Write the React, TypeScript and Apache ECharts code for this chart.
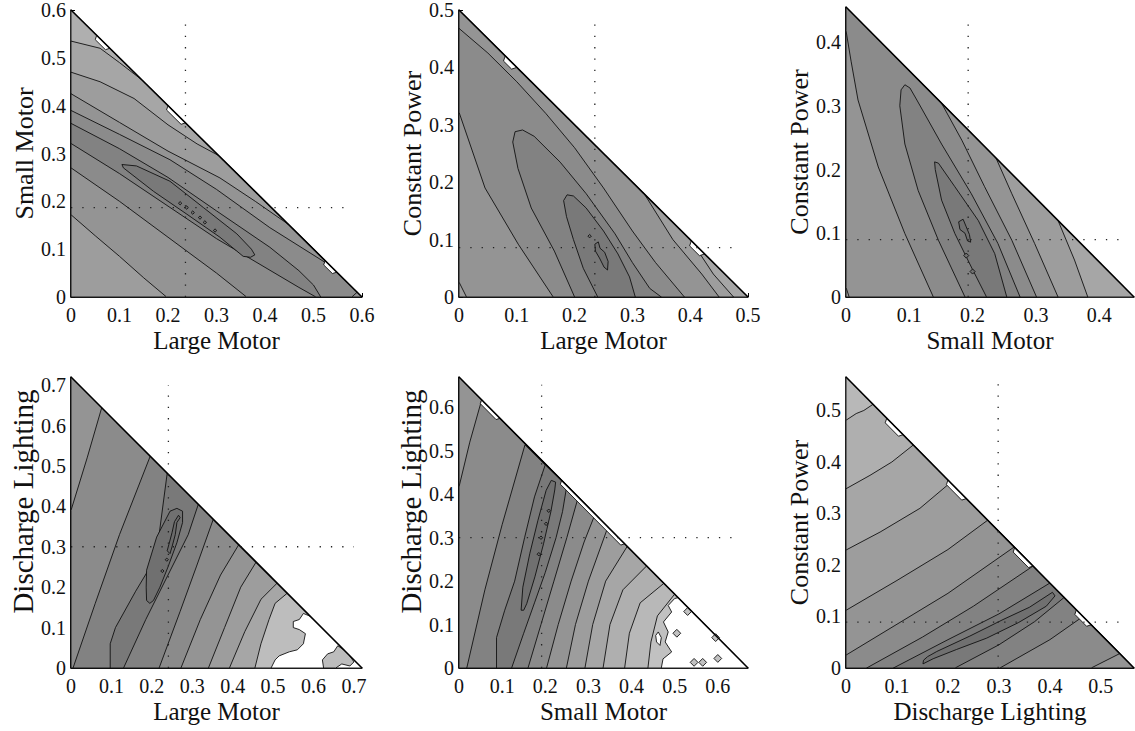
import React, { useEffect, useRef } from "react";
import * as echarts from "echarts";

type Pt = [number, number];
type Region = { pts: Pt[]; lv: number | "white" };

// ---------- panel settings ----------
const PANEL_MAX = [0.6, 0.5, 0.455, 0.72, 0.67, 0.565];
const X_TITLES = ["Large Motor", "Large Motor", "Small Motor", "Large Motor", "Small Motor", "Discharge Lighting"];
const Y_TITLES = ["Small Motor", "Constant Power", "Constant Power", "Discharge Lighting", "Discharge Lighting", "Constant Power"];
const OPT_X = [0.236, 0.235, 0.193, 0.241, 0.1915, 0.2985];
const OPT_Y = [0.187, 0.086, 0.09, 0.3, 0.3, 0.089];
const OPT_REACH = [0.582, 0.488, 0.443, 0.7, 0.652, 0.551];

// ---------- panel 1 : Large Motor vs Small Motor ----------
const P1_C6: Pt[] = [[0, 0.535], [0.06, 0.52], [0.1, 0.49], [0.146, 0.454]];
const P1_C5: Pt[] = [[0, 0.47], [0.06, 0.45], [0.13, 0.415], [0.2, 0.36], [0.26, 0.32], [0.304, 0.296]];
const P1_C4U: Pt[] = [[0, 0.425], [0.1, 0.365], [0.2, 0.305], [0.307, 0.249], [0.38, 0.2], [0.448, 0.152]];
const P1_C4L: Pt[] = [[0, 0.172], [0.05, 0.128], [0.1, 0.085], [0.15, 0.04], [0.197, 0]];
const P1_C3U: Pt[] = [[0, 0.39], [0.1, 0.34], [0.204, 0.287], [0.3, 0.225], [0.41, 0.145], [0.534, 0.066]];
const P1_C3R: Pt[] = [[0.59, 0.01], [0.579, 0]];
const P1_C3L: Pt[] = [[0, 0.27], [0.1, 0.2], [0.2, 0.125], [0.3, 0.05], [0.362, 0]];
const P1_C2: Pt[] = [[0, 0.363], [0.1, 0.31], [0.2, 0.25], [0.3, 0.18], [0.41, 0.104], [0.47, 0.055], [0.5, 0.025], [0.515, 0], [0.505, 0], [0.47, 0.02], [0.4, 0.062], [0.3, 0.122], [0.2, 0.19], [0.1, 0.258], [0, 0.321]];
const P1_C1: Pt[] = [[0.105, 0.277], [0.135, 0.274], [0.204, 0.242], [0.273, 0.187], [0.342, 0.132], [0.372, 0.1], [0.379, 0.088], [0.37, 0.083], [0.355, 0.085], [0.307, 0.125], [0.239, 0.173], [0.17, 0.221], [0.108, 0.27]];
const P1_SPOTS: Pt[] = [[0.225, 0.196], [0.2385, 0.187], [0.251, 0.1765], [0.266, 0.166], [0.276, 0.156], [0.297, 0.139]];
const P1_NOTCH: Pt[] = [[0.053, 0.08], [0.2, 0.236], [0.524, 0.548]];

// ---------- panel 2 : Large Motor vs Constant Power ----------
const P2_C6: Pt[] = [[0.475, 0], [0.44, 0.04], [0.402, 0.098]];
const P2_TINY: Pt[] = [[0, 0.026], [0.013, 0]];
const P2_C5: Pt[] = [[0.45, 0], [0.42, 0.04], [0.37, 0.1], [0.321, 0.179]];
const P2_B: Pt[] = [[0, 0.322], [0.045, 0.19], [0.1025, 0.092], [0.163, 0]];
const P2_C4: Pt[] = [[0, 0.468], [0.05, 0.425], [0.1, 0.375], [0.15, 0.32], [0.2, 0.26], [0.25, 0.19], [0.3, 0.115], [0.34, 0.06], [0.39, 0]];
const P2_C3: Pt[] = [[0.2, 0], [0.165, 0.08], [0.125, 0.155], [0.102, 0.224], [0.093, 0.27], [0.097, 0.288], [0.11, 0.291], [0.13, 0.28], [0.175, 0.235], [0.22, 0.18], [0.27, 0.11], [0.3, 0.06], [0.33, 0.015], [0.35, 0]];
const P2_C2: Pt[] = [[0.24, 0], [0.215, 0.05], [0.198, 0.1], [0.186, 0.14], [0.181, 0.168], [0.187, 0.178], [0.198, 0.176], [0.22, 0.155], [0.25, 0.115], [0.275, 0.075], [0.295, 0.035], [0.305, 0]];
const P2_C1: Pt[] = [[0.235, 0.092], [0.241, 0.096], [0.244, 0.085], [0.252, 0.078], [0.258, 0.062], [0.257, 0.047], [0.251, 0.052], [0.243, 0.068], [0.236, 0.08]];
const P2_SPOTS: Pt[] = [[0.226, 0.106]];
const P2_NOTCH: Pt[] = [[0.08, 0.1], [0.402, 0.425]];

// ---------- panel 3 : Small Motor vs Constant Power ----------
const P3_C6: Pt[] = [[0.382, 0], [0.361, 0.058], [0.335, 0.12]];
const P3_TINY: Pt[] = [[0, 0.015], [0.005, 0]];
const P3_C5: Pt[] = [[0.335, 0], [0.298, 0.084], [0.262, 0.162], [0.237, 0.218]];
const P3_C4L: Pt[] = [[0, 0.418], [0.008, 0.37], [0.019, 0.309], [0.051, 0.204], [0.093, 0.0995], [0.138, 0]];
const P3_C4R: Pt[] = [[0.301, 0], [0.262, 0.089], [0.219, 0.173], [0.183, 0.246], [0.151, 0.304]];
const P3_C3: Pt[] = [[0.188, 0], [0.146, 0.089], [0.114, 0.167], [0.093, 0.24], [0.085, 0.3], [0.087, 0.325], [0.093, 0.333], [0.101, 0.328], [0.112, 0.309], [0.151, 0.24], [0.198, 0.162], [0.24, 0.084], [0.275, 0]];
const P3_C2: Pt[] = [[0.222, 0], [0.198, 0.047], [0.172, 0.0995], [0.151, 0.152], [0.141, 0.2], [0.14, 0.212], [0.146, 0.21], [0.172, 0.173], [0.209, 0.12], [0.235, 0.068], [0.254, 0]];
const P3_C1: Pt[] = [[0.178, 0.118], [0.185, 0.122], [0.19, 0.11], [0.195, 0.098], [0.197, 0.086], [0.192, 0.088], [0.188, 0.1], [0.18, 0.106]];
const P3_SPOTS: Pt[] = [[0.19, 0.065], [0.2, 0.04]];

// ---------- panel 4 : Large Motor vs Discharge Lighting ----------
const P4_L1: Pt[] = [[0, 0.39], [0.04, 0.52], [0.076, 0.644]];
const P4_L2: Pt[] = [[0.005, 0], [0.06, 0.16], [0.12, 0.33], [0.196, 0.524]];
const P4_L3: Pt[] = [[0.097, 0], [0.097, 0.06], [0.11, 0.1], [0.16, 0.19], [0.196, 0.25], [0.218, 0.33], [0.238, 0.482]];
const P4_L4: Pt[] = [[0.13, 0], [0.185, 0.12], [0.24, 0.23], [0.29, 0.33], [0.315, 0.405]];
const P4_L5: Pt[] = [[0.218, 0], [0.27, 0.14], [0.31, 0.25], [0.352, 0.368]];
const P4_L6: Pt[] = [[0.272, 0], [0.32, 0.12], [0.37, 0.23], [0.415, 0.305]];
const P4_L7: Pt[] = [[0.34, 0], [0.38, 0.1], [0.42, 0.2], [0.458, 0.262]];
const P4_L8: Pt[] = [[0.392, 0], [0.43, 0.09], [0.47, 0.17], [0.51, 0.21]];
const P4_L9: Pt[] = [[0.455, 0], [0.47, 0.06], [0.49, 0.12], [0.505, 0.16], [0.535, 0.185]];
const P4_E: Pt[] = [[0.187, 0.167], [0.186, 0.2], [0.187, 0.242], [0.212, 0.324], [0.245, 0.388], [0.262, 0.395], [0.276, 0.388], [0.276, 0.36], [0.262, 0.31], [0.24, 0.25], [0.22, 0.2], [0.204, 0.167], [0.195, 0.16]];
const P4_BLOB: Pt[] = [[0.245, 0.283], [0.25, 0.3], [0.258, 0.33], [0.262, 0.36], [0.27, 0.372], [0.266, 0.378], [0.256, 0.362], [0.25, 0.335], [0.242, 0.305], [0.238, 0.29]];
const P4_SPOTS: Pt[] = [[0.237, 0.268], [0.226, 0.24]];
const P4_HOLE: Pt[] = [[0.495, 0], [0.505, 0.02], [0.515, 0.03], [0.54, 0.04], [0.56, 0.045], [0.575, 0.06], [0.58, 0.085], [0.565, 0.095], [0.55, 0.1], [0.55, 0.115], [0.565, 0.12], [0.575, 0.135], [0.592, 0.128], [0.72, 0]];
const P4_ISLAND: Pt[] = [[0.625, 0], [0.622, 0.02], [0.635, 0.035], [0.65, 0.04], [0.66, 0.055], [0.675, 0.045], [0.69, 0.03], [0.7, 0.015], [0.69, 0.005], [0.67, 0.01], [0.655, 0]];

// ---------- panel 5 : Small Motor vs Discharge Lighting ----------
const P5_L1: Pt[] = [[0, 0.417], [0.025, 0.52], [0.0525, 0.617]];
const P5_L2: Pt[] = [[0.018, 0], [0.06, 0.18], [0.1, 0.33], [0.153, 0.514]];
const P5_L3: Pt[] = [[0.087, 0], [0.087, 0.07], [0.106, 0.133], [0.129, 0.2], [0.152, 0.3], [0.175, 0.394], [0.2, 0.468]];
const P5_L4: Pt[] = [[0.122, 0], [0.15, 0.08], [0.175, 0.15], [0.2, 0.22], [0.225, 0.3], [0.24, 0.36], [0.25, 0.42]];
const P5_L5: Pt[] = [[0.16, 0], [0.19, 0.1], [0.22, 0.2], [0.25, 0.3], [0.276, 0.392]];
const P5_L6: Pt[] = [[0.203, 0], [0.23, 0.1], [0.26, 0.2], [0.29, 0.29], [0.315, 0.353]];
const P5_L7: Pt[] = [[0.249, 0], [0.27, 0.1], [0.3, 0.2], [0.345, 0.324]];
const P5_L8: Pt[] = [[0.292, 0], [0.31, 0.1], [0.34, 0.2], [0.39, 0.28]];
const P5_L9: Pt[] = [[0.334, 0], [0.35, 0.1], [0.38, 0.18], [0.435, 0.235]];
const P5_L10: Pt[] = [[0.384, 0], [0.395, 0.08], [0.42, 0.15], [0.475, 0.195]];
const P5_L11: Pt[] = [[0.438, 0], [0.445, 0.06], [0.46, 0.12], [0.5, 0.17]];
const P5_E: Pt[] = [[0.144, 0.133], [0.148, 0.186], [0.164, 0.263], [0.183, 0.34], [0.202, 0.409], [0.214, 0.432], [0.224, 0.428], [0.222, 0.41], [0.213, 0.36], [0.196, 0.286], [0.176, 0.21], [0.157, 0.148], [0.15, 0.133]];
const P5_SPOTS: Pt[] = [[0.202, 0.332], [0.19, 0.3], [0.208, 0.362], [0.185, 0.262]];
const P5_HOLE: Pt[] = [[0.469, 0], [0.473, 0.021], [0.493, 0.037], [0.478, 0.06], [0.485, 0.083], [0.474, 0.106], [0.493, 0.129], [0.485, 0.144], [0.5, 0.16], [0.508, 0.162], [0.67, 0]];
const P5_GAP: Pt[] = [[0.458, 0.06], [0.466, 0.052], [0.469, 0.07], [0.462, 0.083], [0.456, 0.075]];
const P5_ISLES: Pt[] = [[0.53, 0.13], [0.505, 0.08], [0.595, 0.07], [0.6, 0.022], [0.545, 0.013], [0.565, 0.013]];
const P5_NOTCH: Pt[] = [[0.0525, 0.095], [0.238, 0.384]];

// ---------- panel 6 : Discharge Lighting vs Constant Power ----------
const P6_M1: Pt[] = [[0, 0.481], [0.02, 0.494], [0.035, 0.5], [0.053, 0.512]];
const P6_M2: Pt[] = [[0, 0.348], [0.047, 0.374], [0.09, 0.4], [0.132, 0.433]];
const P6_M3: Pt[] = [[0, 0.229], [0.067, 0.264], [0.145, 0.31], [0.205, 0.36]];
const P6_M4: Pt[] = [[0, 0.112], [0.1, 0.17], [0.2, 0.23], [0.278, 0.287]];
const P6_M5: Pt[] = [[0, 0.025], [0.1, 0.085], [0.2, 0.145], [0.33, 0.235]];
const P6_M6: Pt[] = [[0.0405, 0], [0.15, 0.06], [0.25, 0.12], [0.367, 0.198]];
const P6_M7: Pt[] = [[0.093, 0], [0.2, 0.055], [0.3, 0.105], [0.4, 0.165]];
const P6_M8: Pt[] = [[0.214, 0], [0.3, 0.045], [0.37, 0.09], [0.428, 0.137]];
const P6_M9: Pt[] = [[0.302, 0], [0.4, 0.055], [0.465, 0.1]];
const P6_M10: Pt[] = [[0.481, 0], [0.537, 0.028]];
const P6_DARK: Pt[] = [[0.151, 0.008], [0.171, 0.018], [0.217, 0.036], [0.276, 0.058], [0.338, 0.088], [0.393, 0.12], [0.41, 0.14], [0.405, 0.147], [0.36, 0.118], [0.308, 0.094], [0.243, 0.062], [0.178, 0.032], [0.16, 0.022], [0.152, 0.015]];
const P6_NOTCH: Pt[] = [[0.08, 0.112], [0.2, 0.236], [0.331, 0.367], [0.452, 0.481]];

// ---------- helpers ----------
const rev = (a: Pt[]): Pt[] => [...a].reverse();
const tri = (m: number): Pt[] => [[0, 0], [m, 0], [0, m]];
const spot = (c: Pt, r: number): Pt[] => [[c[0] - r, c[1]], [c[0], c[1] + r], [c[0] + r, c[1]], [c[0], c[1] - r]];
const notch = (m: number, n: Pt): Pt[] => {
  const [a, b] = n;
  const e = 0.006;
  return [[a, m - a], [b, m - b], [b - e - 0.003, m - b - e + 0.003], [a + 0.003 - e, m - a - 0.003 - e]];
};

function levelFill(lv: number | "white"): string {
  if (lv === "white") return "#ffffff";
  const g = Math.round(Math.max(0, Math.min(255, 112 + lv * 9)));
  return `rgb(${g},${g},${g})`;
}

function panelRegions(i: number): Region[] {
  const m = PANEL_MAX[i];
  const out: Region[] = [];
  if (i === 0) {
    out.push({ pts: tri(m), lv: 7 });
    out.push({ pts: [...P1_C6, [m, 0], [0, 0]], lv: 6 });
    out.push({ pts: [...P1_C5, [m, 0], [0, 0]], lv: 5 });
    out.push({ pts: [...P1_C4U, [m, 0], ...rev(P1_C4L)], lv: 4 });
    out.push({ pts: [...P1_C3U, ...P1_C3R, ...rev(P1_C3L)], lv: 3 });
    out.push({ pts: P1_C2, lv: 2 });
    out.push({ pts: P1_C1, lv: 1 });
    P1_SPOTS.forEach((s) => out.push({ pts: spot(s, 0.0035), lv: 0 }));
    P1_NOTCH.forEach((n) => out.push({ pts: notch(m, n), lv: "white" }));
  } else if (i === 1) {
    out.push({ pts: tri(m), lv: 6 });
    out.push({ pts: [[0, 0], ...P2_C6, [0, m]], lv: 5 });
    out.push({ pts: [...P2_TINY, ...P2_C5, [0, m]], lv: 4 });
    out.push({ pts: [...P2_B, ...rev(P2_C4)], lv: 3 });
    out.push({ pts: P2_C3, lv: 2 });
    out.push({ pts: P2_C2, lv: 1 });
    out.push({ pts: P2_C1, lv: 0 });
    P2_SPOTS.forEach((s) => out.push({ pts: spot(s, 0.003), lv: 0 }));
    P2_NOTCH.forEach((n) => out.push({ pts: notch(m, n), lv: "white" }));
  } else if (i === 2) {
    out.push({ pts: tri(m), lv: 6 });
    out.push({ pts: [[0, 0], ...P3_C6, [0, m]], lv: 5 });
    out.push({ pts: [...P3_TINY, ...P3_C5, [0, m]], lv: 4 });
    out.push({ pts: [...P3_C4L, ...P3_C4R, [0, m]], lv: 3 });
    out.push({ pts: P3_C3, lv: 2 });
    out.push({ pts: P3_C2, lv: 1 });
    out.push({ pts: P3_C1, lv: 0 });
    P3_SPOTS.forEach((s) => out.push({ pts: spot(s, 0.004), lv: 0 }));
  } else if (i === 3) {
    out.push({ pts: tri(m), lv: 8.5 as number });
    out.push({ pts: [[0, 0], ...P4_L9, [0, m]], lv: 6 });
    out.push({ pts: [[0, 0], ...P4_L8, [0, m]], lv: 5 });
    out.push({ pts: [[0, 0], ...P4_L7, [0, m]], lv: 4 });
    out.push({ pts: [[0, 0], ...P4_L6, ...rev(P4_L1)], lv: 3 });
    out.push({ pts: [...P4_L5, ...rev(P4_L2)], lv: 2 });
    out.push({ pts: [...P4_L4, ...rev(P4_L3)], lv: 1 });
    out.push({ pts: P4_E, lv: 0 });
    out.push({ pts: P4_BLOB, lv: -0.7 });
    P4_SPOTS.forEach((s) => out.push({ pts: spot(s, 0.004), lv: -0.7 }));
    out.push({ pts: P4_HOLE, lv: "white" });
    out.push({ pts: P4_ISLAND, lv: 8.5 });
  } else if (i === 4) {
    out.push({ pts: tri(m), lv: 9 });
    out.push({ pts: [[0, 0], ...P5_L11, [0, m]], lv: 8 });
    out.push({ pts: [[0, 0], ...P5_L10, [0, m]], lv: 7 });
    out.push({ pts: [[0, 0], ...P5_L9, [0, m]], lv: 6 });
    out.push({ pts: [[0, 0], ...P5_L8, [0, m]], lv: 5 });
    out.push({ pts: [[0, 0], ...P5_L7, [0, m]], lv: 4 });
    out.push({ pts: [[0, 0], ...P5_L6, ...rev(P5_L1)], lv: 3 });
    out.push({ pts: [...P5_L5, ...rev(P5_L2)], lv: 2 });
    out.push({ pts: [...P5_L4, ...rev(P5_L3)], lv: 1 });
    out.push({ pts: P5_E, lv: 0 });
    P5_SPOTS.forEach((s) => out.push({ pts: spot(s, 0.004), lv: -0.7 }));
    out.push({ pts: P5_HOLE, lv: "white" });
    out.push({ pts: P5_GAP, lv: "white" });
    P5_ISLES.forEach((s) => out.push({ pts: spot(s, 0.009), lv: 9 }));
    P5_NOTCH.forEach((n) => out.push({ pts: notch(m, n), lv: "white" }));
  } else {
    out.push({ pts: tri(m), lv: 8 });
    out.push({ pts: [[0, 0], [m, 0], ...rev(P6_M1)], lv: 7 });
    out.push({ pts: [[0, 0], [m, 0], ...rev(P6_M2)], lv: 6 });
    out.push({ pts: [[0, 0], [m, 0], ...rev(P6_M3)], lv: 5 });
    out.push({ pts: [[0, 0], [m, 0], ...rev(P6_M4)], lv: 4 });
    out.push({ pts: [[0, 0], ...P6_M10, ...rev(P6_M5)], lv: 3 });
    out.push({ pts: [...P6_M9, ...rev(P6_M6)], lv: 2 });
    out.push({ pts: [...P6_M8, ...rev(P6_M7)], lv: 1 });
    out.push({ pts: P6_DARK, lv: 0 });
    P6_NOTCH.forEach((n) => out.push({ pts: notch(m, n), lv: "white" }));
  }
  return out;
}

// grid placement (pixels)
const GRID_LEFT = [71, 459, 846, 71, 459, 846];
const GRID_TOP = [7, 7, 7, 377, 377, 377];
const GRID_W = [291, 289, 288, 291, 289, 288];
const GRID_H = [290, 290, 290, 291, 291, 291];
const Y_TITLE_SIZE = [26, 26, 26, 29, 29, 26];
const Y_TITLE_SHIFT = [0, 0, 0, 42, 42, 0];

const FONT = "'Liberation Serif', 'Times New Roman', serif";

function buildOption() {
  const grid: any[] = [];
  const xAxis: any[] = [];
  const yAxis: any[] = [];
  const series: any[] = [];
  const fmt = (v: number) => (Math.abs(v) < 1e-9 ? "0" : String(Math.round(v * 10) / 10));
  for (let i = 0; i < 6; i++) {
    const m = PANEL_MAX[i];
    const tickAtMax = Math.abs(Math.round(m * 10) / 10 - m) < 1e-9;
    grid.push({ left: GRID_LEFT[i], top: GRID_TOP[i], width: GRID_W[i], height: GRID_H[i], containLabel: false });
    const common = {
      gridIndex: i,
      type: "value",
      min: 0,
      max: m,
      interval: 0.1,
      splitLine: { show: false },
      axisLine: { show: true, lineStyle: { color: "#000", width: 1.5 } },
      axisTick: { show: true, inside: true, length: 4, lineStyle: { color: "#000" } },
      nameLocation: "middle",
    };
    xAxis.push({
      ...common,
      name: X_TITLES[i],
      nameGap: 31,
      nameTextStyle: { fontFamily: FONT, fontSize: 25, color: "#111" },
      axisLabel: { fontFamily: FONT, fontSize: 20, color: "#111", margin: 8, formatter: fmt, showMaxLabel: tickAtMax, showMinLabel: true },
    });
    yAxis.push({
      ...common,
      name: Y_TITLES[i],
      nameGap: i >= 3 && i <= 4 ? 34 : 33,
      nameTextStyle: {
        fontFamily: FONT,
        fontSize: Y_TITLE_SIZE[i],
        color: "#111",
        padding: [0, 0, 0, Y_TITLE_SHIFT[i]],
      },
      axisLabel: { fontFamily: FONT, fontSize: 20, color: "#111", margin: 5, formatter: fmt, showMaxLabel: tickAtMax, showMinLabel: true },
    });
    const regions = panelRegions(i);
    series.push({
      type: "custom",
      coordinateSystem: "cartesian2d",
      xAxisIndex: i,
      yAxisIndex: i,
      silent: true,
      z: 2,
      data: regions.map(() => [0, 0]),
      renderItem: (params: any, api: any) => {
        const r = regions[params.dataIndex];
        const points = r.pts.map((p) => api.coord(p));
        return {
          type: "polygon",
          shape: { points },
          style: { fill: levelFill(r.lv), stroke: "#111", lineWidth: 0.9 },
        };
      },
    });
    series.push({
      type: "line",
      xAxisIndex: i,
      yAxisIndex: i,
      silent: true,
      z: 4,
      symbol: "none",
      data: [[0, m], [m, 0]],
      lineStyle: { color: "#000", width: 1.6 },
    });
    const dot = { color: "#222", width: 1.3, type: [1.3, 10] };
    series.push({
      type: "line",
      xAxisIndex: i,
      yAxisIndex: i,
      silent: true,
      z: 5,
      symbol: "none",
      data: [[OPT_X[i], 0], [OPT_X[i], OPT_REACH[i]]],
      lineStyle: dot,
    });
    series.push({
      type: "line",
      xAxisIndex: i,
      yAxisIndex: i,
      silent: true,
      z: 5,
      symbol: "none",
      data: [[0, OPT_Y[i]], [OPT_REACH[i], OPT_Y[i]]],
      lineStyle: dot,
    });
  }
  return {
    animation: false,
    backgroundColor: "#ffffff",
    grid,
    xAxis,
    yAxis,
    series,
  };
}

export default function App() {
  const ref = useRef<HTMLDivElement>(null);
  useEffect(() => {
    if (!ref.current) return;
    const chart = echarts.init(ref.current, undefined, { renderer: "svg" });
    chart.setOption(buildOption() as any);
    return () => chart.dispose();
  }, []);
  return (
    <div
      ref={ref}
      style={{ position: "fixed", left: 0, top: 0, width: 1135, height: 731, background: "#fff" }}
    />
  );
}
